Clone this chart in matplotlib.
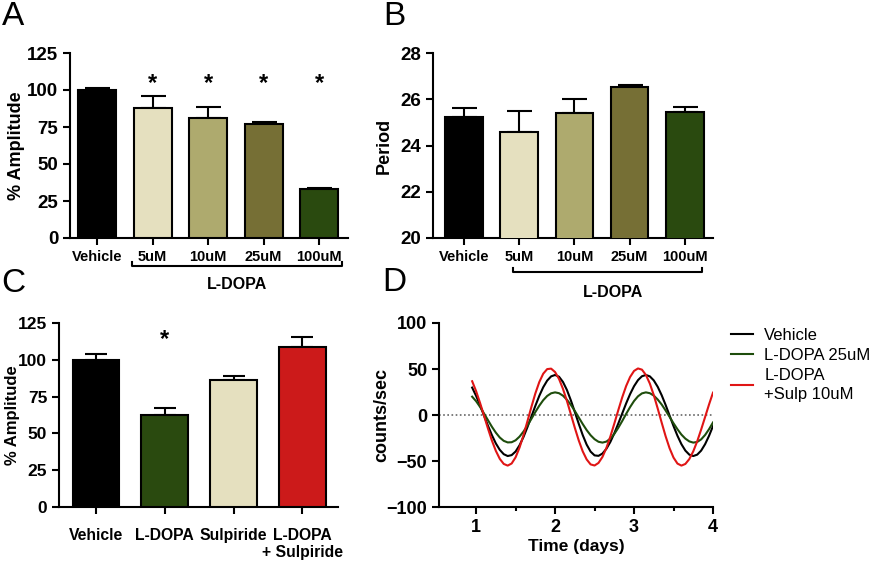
import numpy as np
import matplotlib
matplotlib.use('Agg')
import matplotlib.pyplot as plt

plt.rcParams['font.family'] = ['Liberation Sans', 'DejaVu Sans']

# panel A - amplitude vs L-DOPA dose
a_labels = ['Vehicle', '5uM', '10uM', '25uM', '100uM']
a_amp = [100.0, 88.0, 81.3, 76.8, 33.1]
a_err = [1.6, 8.0, 7.0, 1.8, 0.5]
a_star = [False, True, True, True, True]

# panel B - period vs L-DOPA dose
b_labels = ['Vehicle', '5uM', '10uM', '25uM', '100uM']
b_period = [25.23, 24.58, 25.41, 26.53, 25.45]
b_err = [0.39, 0.91, 0.60, 0.07, 0.22]

dose_colors = ['#000000', '#e5e0bf', '#aeaa6e', '#766f35', '#2a4a0f']

# panel C - amplitude with sulpiride
c_labels = ['Vehicle', 'L-DOPA', 'Sulpiride', 'L-DOPA\n+ Sulpiride']
c_amp = [100.0, 62.5, 86.0, 109.0]
c_err = [4.0, 4.5, 3.0, 6.5]
c_star = [False, True, False, False]
c_colors = ['#000000', '#2a4a0f', '#e5e0bf', '#cc1a1a']

# panel D - detrended bioluminescence traces
t_days = [0.95, 1.00, 1.05, 1.10, 1.15, 1.20, 1.25, 1.30, 1.35, 1.40,
          1.45, 1.50, 1.55, 1.60, 1.65, 1.70, 1.75, 1.80, 1.85, 1.90,
          1.95, 2.00, 2.05, 2.10, 2.15, 2.20, 2.25, 2.30, 2.35, 2.40,
          2.45, 2.50, 2.55, 2.60, 2.65, 2.70, 2.75, 2.80, 2.85, 2.90,
          2.95, 3.00, 3.05, 3.10, 3.15, 3.20, 3.25, 3.30, 3.35, 3.40,
          3.45, 3.50, 3.55, 3.60, 3.65, 3.70, 3.75, 3.80, 3.85, 3.90,
          3.95, 4.00]
vehicle_trace = [29.8, 20.8, 10.5, -0.6, -11.6, -21.9, -30.9, -37.9, -42.6, -44.6,
                 -43.6, -39.7, -32.9, -23.9, -13.2, -1.7, 9.9, 20.8, 30.2, 37.4,
                 42.0, 43.5, 41.6, 35.9, 27.2, 15.9, 3.3, -9.6, -21.8, -32.2,
                 -39.8, -43.9, -44.4, -41.9, -36.7, -29.3, -19.9, -9.4, 1.6, 12.6,
                 22.7, 31.3, 37.9, 42.1, 43.5, 42.0, 37.6, 30.6, 21.5, 10.9,
                 -0.6, -12.0, -22.6, -31.7, -38.7, -43.1, -44.6, -43.1, -38.7, -31.7,
                 -22.6, -12.0]
ldopa_trace = [19.9, 15.0, 8.8, 1.7, -5.6, -12.8, -19.2, -24.5, -28.1, -29.8,
               -29.6, -27.5, -23.5, -18.0, -11.4, -4.2, 3.2, 10.1, 16.1, 20.7,
               23.6, 24.6, 23.7, 21.0, 16.6, 11.0, 4.4, -2.7, -9.8, -16.4,
               -22.0, -26.3, -29.1, -30.0, -28.9, -25.7, -20.6, -14.0, -6.6, 1.2,
               8.6, 15.2, 20.3, 23.5, 24.6, 23.7, 21.1, 16.8, 11.4, 4.9,
               -2.0, -9.0, -15.5, -21.3, -25.7, -28.7, -30.0, -29.3, -26.5, -21.7,
               -15.4, -8.1]
sulp_trace = [36.7, 25.9, 13.1, -0.7, -14.7, -27.8, -39.0, -47.7, -53.2, -55.0,
              -52.7, -46.0, -35.4, -21.9, -6.8, 8.7, 23.4, 35.8, 44.9, 49.9,
              50.4, 46.7, 39.2, 28.4, 15.3, 0.8, -13.9, -27.7, -39.5, -48.3,
              -53.7, -54.9, -52.1, -45.6, -35.8, -23.4, -9.4, 5.1, 19.1, 31.5,
              41.3, 47.9, 50.6, 49.3, 43.6, 34.2, 21.6, 7.0, -8.3, -23.1,
              -36.1, -46.3, -52.8, -55.0, -53.2, -47.9, -39.5, -28.6, -15.8, -2.2,
              11.5, 24.3]


def style_axes(ax, xsize=10.5, ysize=13.5):
    for s in ['top', 'right']:
        ax.spines[s].set_visible(False)
    for s in ['left', 'bottom']:
        ax.spines[s].set_linewidth(1.5)
    ax.tick_params(direction='out', length=5, width=1.5)
    ax.tick_params(axis='x', labelsize=xsize)
    ax.tick_params(axis='y', labelsize=ysize)
    for lbl in ax.get_xticklabels() + ax.get_yticklabels():
        lbl.set_fontweight('bold')


def bar_panel(ax, labels, vals, errs, colors, capsize):
    x = np.arange(len(labels))
    ax.bar(x, vals, width=0.68, color=colors, edgecolor='black', linewidth=1.5, zorder=3)
    ax.errorbar(x, vals, yerr=[np.zeros(len(errs)), errs], fmt='none', ecolor='black',
                elinewidth=1.5, capthick=1.5, capsize=capsize, zorder=2)
    ax.set_xticks(x)
    ax.set_xticklabels(labels)
    return x


def bracket(ax, x0, x1, y, ty, tx):
    tr = ax.get_xaxis_transform()
    ax.plot([x0, x0, x1, x1], [y + 0.02, y, y, y + 0.02], color='black', lw=1.5,
            transform=tr, clip_on=False)
    ax.text(tx, ty, 'L-DOPA', transform=tr, ha='center', va='center',
            fontsize=11.5, fontweight='bold')


fig = plt.figure(figsize=(8.75, 5.64), dpi=100)

# ---- A
axA = fig.add_axes([70 / 875, 1 - 238 / 564, 278 / 875, 185 / 564])
xa = bar_panel(axA, a_labels, a_amp, a_err, dose_colors, 9)
axA.set_ylim(0, 125)
axA.set_xlim(-0.49, 4.52)
axA.set_yticks([0, 25, 50, 75, 100, 125])
axA.set_ylabel('% Amplitude', fontsize=13, fontweight='bold')
axA.yaxis.set_label_coords(-0.162, 0.5)
for xi, s in zip(xa, a_star):
    if s:
        axA.text(xi, 104.5, '*', ha='center', va='center', fontsize=17, fontweight='bold')
style_axes(axA)
bracket(axA, 0.63, 4.41, -0.151, -0.254, 2.52)

# ---- B
axB = fig.add_axes([433 / 875, 1 - 238 / 564, 280 / 875, 185 / 564])
bar_panel(axB, b_labels, b_period, b_err, dose_colors, 9)
axB.set_ylim(20, 28)
axB.set_xlim(-0.56, 4.51)
axB.set_yticks([20, 22, 24, 26, 28])
axB.set_ylabel('Period', fontsize=13, fontweight='bold')
axB.yaxis.set_label_coords(-0.143, 0.5)
style_axes(axB)
bracket(axB, 0.89, 4.31, -0.184, -0.297, 2.7)

# ---- C
axC = fig.add_axes([59 / 875, 1 - 507 / 564, 279 / 875, 184 / 564])
xc = bar_panel(axC, c_labels, c_amp, c_err, c_colors, 8)
axC.set_ylim(0, 125)
axC.set_xlim(-0.54, 3.52)
axC.set_yticks([0, 25, 50, 75, 100, 125])
axC.set_ylabel('% Amplitude', fontsize=12, fontweight='bold')
axC.yaxis.set_label_coords(-0.138, 0.5)
for xi, s in zip(xc, c_star):
    if s:
        axC.text(xi, 114, '*', ha='center', va='center', fontsize=17, fontweight='bold')
style_axes(axC, xsize=11.3, ysize=12.5)
axC.tick_params(axis='x', pad=10)

# ---- D
axD = fig.add_axes([439 / 875, 1 - 507 / 564, 274 / 875, 184 / 564])
axD.axhline(0, color='#666666', lw=1.2, ls=(0, (1, 1.5)), zorder=1)
axD.plot(t_days, vehicle_trace, color='black', lw=1.5, label='Vehicle', zorder=3)
axD.plot(t_days, ldopa_trace, color='#1e4d0c', lw=1.5, label='L-DOPA 25uM', zorder=3)
axD.plot(t_days, sulp_trace, color='#e01515', lw=1.5, label='L-DOPA\n+Sulp 10uM', zorder=3)
axD.set_xlim(0.53, 4.0)
axD.set_ylim(-100, 100)
axD.set_xticks([1, 2, 3, 4])
axD.set_xticks([1.5, 2.5, 3.5], minor=True)
axD.set_yticks([-100, -50, 0, 50, 100])
axD.tick_params(which='minor', direction='out', length=3, width=1.5)
axD.set_ylabel('counts/sec', fontsize=13, fontweight='bold')
axD.yaxis.set_label_coords(-0.179, 0.5)
axD.set_xlabel('Time (days)', fontsize=12.5, fontweight='bold', labelpad=2)
style_axes(axD, xsize=13, ysize=13)
leg = fig.legend(loc='upper left', bbox_to_anchor=(731 / 875, 1 - 328 / 564), frameon=False,
                 fontsize=12, handlelength=1.3, handletextpad=0.7, labelspacing=0.3,
                 borderpad=0, borderaxespad=0)
leg.get_texts()[2].set_linespacing(1.35)

# panel letters
for letter, px, py in [('A', 2, 25), ('B', 383, 25), ('C', 1, 292), ('D', 382, 291)]:
    fig.text(px / 875, 1 - py / 564, letter, fontsize=24, ha='left', va='baseline')

fig.savefig('out.png', dpi=100)
